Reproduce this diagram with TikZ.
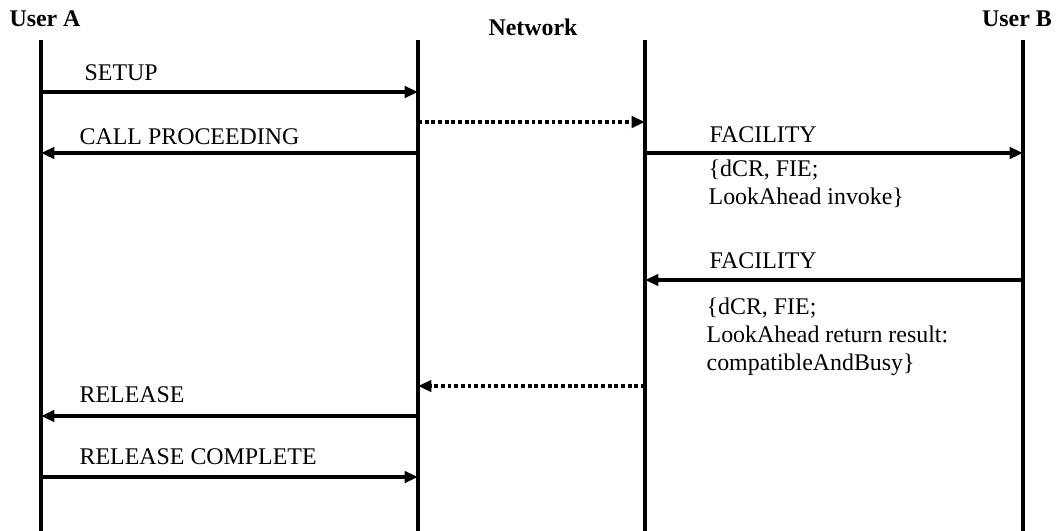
\documentclass[tikz,border=0pt]{standalone}
\usepackage{fontspec}
\setmainfont{Liberation Serif}
\usetikzlibrary{arrows.meta}

\begin{document}
\begin{tikzpicture}[
		x = 0.02cm, y = -0.02cm, % one unit is one pixel, y grows downwards
		> = {Triangle[length=7.6pt, width=6.4pt]}, % arrow head style
		line width = 1.9pt, % line style
		font = \fontsize{13.6}{15.9}\selectfont
		]
		
		\tikzstyle{party}=[
		font = \fontsize{13.6}{15.9}\selectfont\bfseries,
		inner sep = 0pt
		]
		\tikzstyle{msg}=[anchor = west, inner sep = 0pt]
		\tikzstyle{note}=[anchor = north west, align = left, inner sep = 0pt]
		\tikzstyle{relay}=[dash pattern = on 2.2pt off 1.6pt]
		
		\useasboundingbox (0,0) rectangle (1063,531);
		
		% parties
		\node[party] (userA) at (45,19) {User A};
		\node[party] (net) at (533,27) {Network};
		\node[party] (userB) at (1017,19) {User B};
		
		% lifelines
		\coordinate (a0) at (41,40);    \coordinate (a9) at (41,531);
		\coordinate (nl0) at (418,40);  \coordinate (nl9) at (418,531);
		\coordinate (nr0) at (645,40);  \coordinate (nr9) at (645,531);
		\coordinate (b0) at (1023,40);  \coordinate (b9) at (1023,531);
		\draw (a0) -- (a9);
		\draw (nl0) -- (nl9);
		\draw (nr0) -- (nr9);
		\draw (b0) -- (b9);
		
		% message end points
		\coordinate (a1) at (41,92);    \coordinate (nl1) at (418,92);
		\coordinate (nl2) at (418,122); \coordinate (nr2) at (645,122);
		\coordinate (a3) at (41,153);   \coordinate (nl3) at (418,153);
		\coordinate (nr3) at (645,153); \coordinate (b3) at (1023,153);
		\coordinate (nr5) at (645,280); \coordinate (b5) at (1023,280);
		\coordinate (nl6) at (418,386); \coordinate (nr6) at (645,386);
		\coordinate (a7) at (41,416);   \coordinate (nl7) at (418,416);
		\coordinate (a8) at (41,477);   \coordinate (nl8) at (418,477);
		
		% labels
		\node[msg] (setup) at (83,73) {SETUP};
		\node[msg] (callproc) at (78,137) {CALL PROCEEDING};
		\node[msg] (fac1) at (708,135) {FACILITY};
		\node[note] (invoke) at (707,158) {\{dCR, FIE;\\LookAhead invoke\}};
		\node[msg] (fac2) at (708,261) {FACILITY};
		\node[note] (result) at (705,296) {\{dCR, FIE;\\LookAhead return result:\\compatibleAndBusy\}};
		\node[msg] (release) at (78,395) {RELEASE};
		\node[msg] (relcomp) at (78,457) {RELEASE COMPLETE};
		
		\path[->]
		(a1)	edge [] (nl1)
		(nl2)	edge [relay] (nr2)
		(nl3)	edge [] (a3)
		(nr3)	edge [] (b3)
		(b5)	edge [] (nr5)
		(nr6)	edge [relay] (nl6)
		(nl7)	edge [] (a7)
		(a8)	edge [] (nl8)
		;
	\end{tikzpicture}
\end{document}
